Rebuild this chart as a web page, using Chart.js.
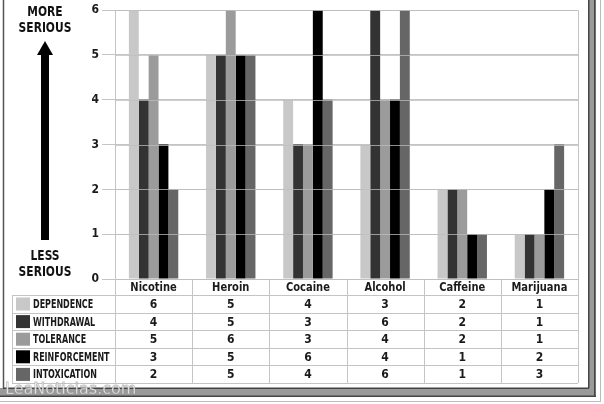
<!DOCTYPE html>
<html>
<head>
<meta charset="utf-8">
<script src="https://cdn.jsdelivr.net/npm/chart.js@4.4.1/dist/chart.umd.min.js"></script>
<style>
  html, body { margin: 0; padding: 0; background: #fff; }
  #wrap { position: relative; width: 604px; height: 404px; }
</style>
</head>
<body>
<div id="wrap"><canvas id="chart"></canvas></div>
<script>
const categories = ["Nicotine", "Heroin", "Cocaine", "Alcohol", "Caffeine", "Marijuana"];
const seriesNames = ["DEPENDENCE", "WITHDRAWAL", "TOLERANCE", "REINFORCEMENT", "INTOXICATION"];
const dependence = [6, 5, 4, 3, 2, 1];
const withdrawal = [4, 5, 3, 6, 2, 1];
const tolerance = [5, 6, 3, 4, 2, 1];
const reinforcement = [3, 5, 6, 4, 1, 2];
const intoxication = [2, 5, 4, 6, 1, 3];
const yTicks = [0, 1, 2, 3, 4, 5, 6];

const seriesValues = [dependence, withdrawal, tolerance, reinforcement, intoxication];
const seriesColors = ["#c8c8c8", "#333333", "#9b9b9b", "#000000", "#666666"];

const FONT = "'Liberation Sans Narrow', 'DejaVu Sans Condensed', Arial, sans-serif";
const gridColor = "#c4c4c4";

// condensed text: squeeze horizontally around the anchor point
function squeezed(ctx, text, x, y, sx) {
  ctx.save();
  ctx.translate(x, y);
  ctx.scale(sx, 1);
  ctx.fillText(text, 0, 0);
  ctx.restore();
}

// table under the plot + frame + left side labels
const extras = {
  id: "extras",
  afterDatasetsDraw(chart) {
    const ctx = chart.ctx;
    const ca = chart.chartArea;
    const y = chart.scales.y;
    // grid lines appear over the bars in the original
    ctx.save();
    ctx.strokeStyle = "rgba(190,190,190,0.75)";
    ctx.lineWidth = 1;
    yTicks.forEach((t) => {
      const py = Math.round(y.getPixelForValue(t)) + 0.5;
      ctx.beginPath();
      ctx.moveTo(ca.left, py);
      ctx.lineTo(ca.right, py);
      ctx.stroke();
    });
    ctx.restore();
  },
  afterDraw(chart) {
    const ctx = chart.ctx;
    const ca = chart.chartArea;
    const x = chart.scales.x;
    const colW = (ca.right - ca.left) / categories.length;
    const tableLeft = 12;
    const headTop = ca.bottom;
    const rowsTop = 295;
    const rowH = 17.6;
    const tableBottom = rowsTop + rowH * seriesNames.length;

    ctx.save();
    ctx.strokeStyle = gridColor;
    ctx.lineWidth = 1;
    // right border of plot + table
    ctx.beginPath();
    ctx.moveTo(ca.right + 0.5, ca.top);
    ctx.lineTo(ca.right + 0.5, tableBottom);
    ctx.stroke();
    // horizontal table lines
    for (let i = 0; i <= seriesNames.length; i++) {
      const py = Math.round(rowsTop + i * rowH) + 0.5;
      ctx.beginPath();
      ctx.moveTo(tableLeft, py);
      ctx.lineTo(ca.right, py);
      ctx.stroke();
    }
    // vertical table lines
    const vx = [tableLeft];
    for (let i = 0; i <= categories.length; i++) vx.push(ca.left + i * colW);
    vx.forEach((px, i) => {
      ctx.beginPath();
      ctx.moveTo(Math.round(px) + 0.5, i === 0 ? rowsTop : headTop);
      ctx.lineTo(Math.round(px) + 0.5, tableBottom);
      ctx.stroke();
    });

    // header (category names)
    ctx.fillStyle = "#1a1a1a";
    ctx.textAlign = "center";
    ctx.textBaseline = "middle";
    ctx.font = "bold 13px " + FONT;
    categories.forEach((c, i) => {
      squeezed(ctx, c, x.getPixelForValue(i), (headTop + rowsTop) / 2 + 1, 0.85);
    });
    // values
    ctx.font = "bold 12px " + FONT;
    seriesValues.forEach((vals, r) => {
      const cy = rowsTop + r * rowH + rowH / 2 + 1;
      vals.forEach((v, i) => ctx.fillText(String(v), x.getPixelForValue(i), cy));
    });
    // legend cells
    ctx.textAlign = "left";
    ctx.font = "bold 12px " + FONT;
    seriesNames.forEach((n, r) => {
      const top = rowsTop + r * rowH;
      ctx.fillStyle = seriesColors[r];
      ctx.fillRect(16, top + 2.5, 14, 13);
      ctx.fillStyle = "#1a1a1a";
      squeezed(ctx, n, 33, top + rowH / 2 + 1, 0.74);
    });

    // left: MORE / LESS SERIOUS with arrow
    ctx.textAlign = "center";
    ctx.font = "bold 14px " + FONT;
    ctx.fillStyle = "#111";
    squeezed(ctx, "MORE", 45, 12, 0.85);
    squeezed(ctx, "SERIOUS", 45, 28, 0.85);
    squeezed(ctx, "LESS", 45, 256, 0.85);
    squeezed(ctx, "SERIOUS", 45, 272, 0.85);
    ctx.fillStyle = "#000";
    ctx.fillRect(41, 52, 8, 188);
    ctx.beginPath();
    ctx.moveTo(45, 41);
    ctx.lineTo(53, 55);
    ctx.lineTo(37, 55);
    ctx.closePath();
    ctx.fill();

    // frame with shadow
    ctx.strokeStyle = "#555";
    ctx.lineWidth = 1.5;
    ctx.beginPath();
    ctx.moveTo(3.5, 0);
    ctx.lineTo(3.5, 388);
    ctx.stroke();
    ctx.fillStyle = "#9a9a9a";
    ctx.fillRect(588, 0, 8, 397);
    ctx.fillRect(0, 388, 596, 9);
    ctx.fillStyle = "#444";
    ctx.fillRect(588, 0, 1.5, 388);
    ctx.fillRect(3, 387.5, 586, 1.5);
    ctx.fillRect(594, 0, 1.5, 397);
    ctx.fillRect(0, 395.5, 596, 1.5);
    ctx.fillStyle = "#bbb";
    ctx.fillRect(600, 0, 1, 402);
    ctx.fillRect(0, 401, 601, 1);

    // watermark
    ctx.textAlign = "left";
    ctx.textBaseline = "alphabetic";
    ctx.font = "16px 'DejaVu Sans', sans-serif";
    ctx.fillStyle = "rgba(255,255,255,0.9)";
    ctx.strokeStyle = "rgba(140,140,140,0.55)";
    ctx.lineWidth = 0.8;
    ctx.fillText("LeaNoticias.com", 5, 394);
    ctx.strokeText("LeaNoticias.com", 5, 394);
    ctx.restore();
  },
};

const data = {
  labels: categories,
  datasets: seriesNames.map((name, i) => ({
    label: name,
    data: seriesValues[i],
    backgroundColor: seriesColors[i],
    borderWidth: 0,
  })),
};

new Chart(document.getElementById("chart"), {
  type: "bar",
  data: data,
  options: {
    responsive: true,
    maintainAspectRatio: false,
    animation: false,
    layout: { padding: { left: 0, top: 6, right: 26, bottom: 125 } },
    datasets: { bar: { categoryPercentage: 0.64, barPercentage: 1 } },
    plugins: { legend: { display: false }, tooltip: { enabled: false } },
    scales: {
      x: { display: false },
      y: {
        min: 0,
        max: 6,
        afterFit: (s) => { s.width = 115; },
        afterBuildTicks: (s) => { s.ticks = yTicks.map((v) => ({ value: v })); },
        ticks: {
          padding: 3,
          color: "#1a1a1a",
          font: { family: FONT, size: 12, weight: "bold" },
        },
        grid: { color: gridColor, tickLength: 13 },
        border: { color: gridColor },
      },
    },
  },
  plugins: [extras],
});
</script>
</body>
</html>
